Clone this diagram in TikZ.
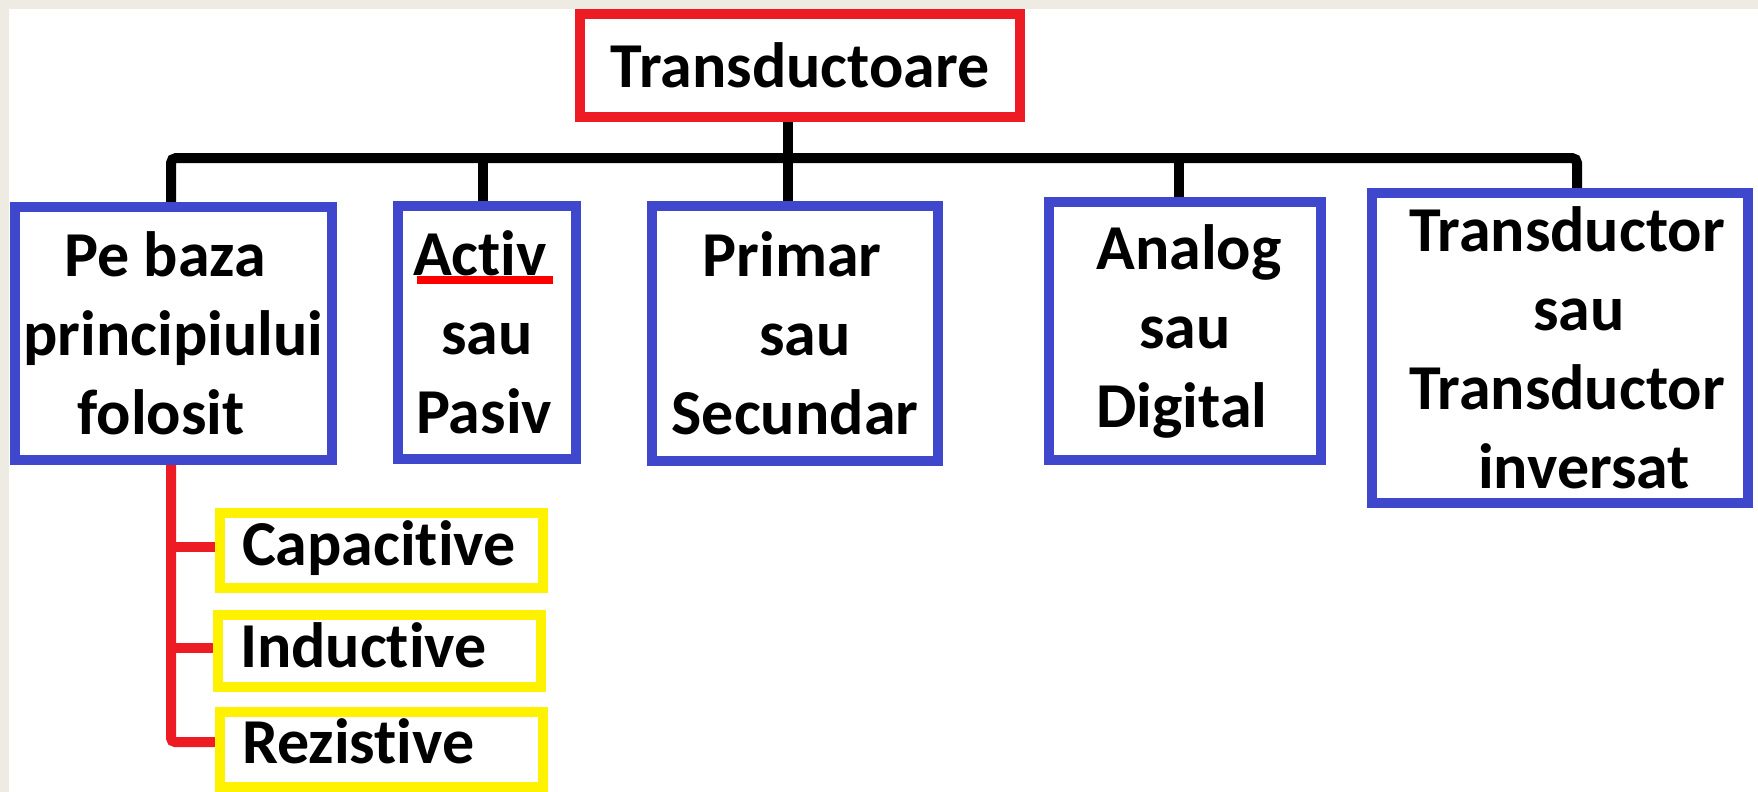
\documentclass[tikz,border=0pt]{standalone}
\usepackage{fontspec}
\setmainfont{Carlito}[Ligatures={NoCommon,NoContextual}]
\usetikzlibrary{calc}
\definecolor{bgbeige}{HTML}{EEEBE3}
\definecolor{pblue}{HTML}{3F48CC}
\definecolor{pred}{HTML}{ED1C24}
\definecolor{pyel}{HTML}{FFF200}
\newcommand{\boxfont}{\fontsize{64}{79}\selectfont\bfseries}
\pgfdeclarelayer{bglayer}
\pgfsetlayers{bglayer,main}
\begin{document}
\begin{tikzpicture}[x=1pt,y=-1pt,
  boxb/.style={draw=pblue, line width=10pt, fill=white, inner sep=0pt, align=center, font=\boxfont},
  boxr/.style={draw=pred, line width=10pt, fill=white, inner sep=0pt, font=\boxfont, text height=61pt, text depth=16pt},
  boxy/.style={draw=pyel, line width=10pt, fill=white, inner xsep=22pt, inner ysep=0pt, text width=279pt, align=left, font=\boxfont},
  blk/.style={line width=10pt, black, rounded corners=5pt},
  redc/.style={line width=10pt, pred, rounded corners=4pt},
  redul/.style={line width=8pt, red}]
\useasboundingbox (0,0) rectangle (1758,792);

\node[boxr, minimum width=440pt, minimum height=103pt] (top) at (800,65.5) {Transductoare};

\node[boxb, minimum width=317pt, minimum height=253pt] (pb) at (173.5,333.5)
  {Pe baza\hspace*{17pt}\\principiului\hspace*{7pt}\\folosit\hspace*{25pt}};
\node[boxb, minimum width=178pt, minimum height=253pt] (ac) at (487,332.5)
  {Activ\hspace*{14pt}\\sau\\Pasiv\hspace*{6pt}};
\node[boxb, minimum width=286pt, minimum height=255pt] (pr) at (795,333.5)
  {Primar\hspace*{6pt}\\\hspace*{20pt}sau\\Secundar};
\node[boxb, minimum width=272pt, minimum height=258pt] (an) at (1185,331)
  {\hspace*{8pt}Analog\\sau\\Digital\hspace*{6pt}};
\node[boxb, minimum width=376pt, minimum height=310pt] (tr) at (1560,348)
  {\hspace*{14pt}Transductor\\\hspace*{38pt}sau\\\hspace*{14pt}Transductor\\\hspace*{48pt}inversat};

\node[boxy, minimum height=75pt, text height=45pt, text depth=16pt] (cap) at (381.5,550.5) {Capacitive};
\node[boxy, minimum height=72pt, text height=48pt, text depth=16pt] (ind) at (379.5,651) {Inductive};
\node[boxy, minimum height=75pt, text height=43pt, text depth=16pt] (rez) at (381.5,749.5) {Rezistive};

\draw[redul] ($(ac.center)+(-70,-52.5)$) -- ($(ac.center)+(66,-52.5)$);

\begin{pgfonlayer}{bglayer}
  \fill[bgbeige] (0,0) rectangle (1758,792);
  \fill[white] (9,9) rectangle (1758,792);
  \coordinate (bus) at (0,158);
  \coordinate (pbtop) at ([xshift=-2.5pt]pb.north);
  \coordinate (trtop) at ([xshift=17pt]tr.north);
  \coordinate (actop) at ([xshift=-4pt]ac.north);
  \coordinate (prtop) at ([xshift=-7pt]pr.north);
  \coordinate (antop) at ([xshift=-6pt]an.north);
  \draw[blk] (pbtop) |- (trtop |- bus) -- (trtop);
  \draw[blk] (actop) -- (actop |- bus);
  \draw[blk] (prtop) -- (prtop |- top.south);
  \draw[blk] (antop) -- (antop |- bus);
  \coordinate (rv) at ([xshift=-2.5pt]pb.south);
  \coordinate (capin) at ([yshift=3.5pt]cap.west);
  \coordinate (indin) at ([yshift=3pt]ind.west);
  \coordinate (rezin) at ([yshift=7.5pt]rez.west);
  \draw[redc] (rv) |- (rezin);
  \draw[redc] (rv |- capin) -- (capin);
  \draw[redc] (rv |- indin) -- (indin);
\end{pgfonlayer}
\end{tikzpicture}
\end{document}
